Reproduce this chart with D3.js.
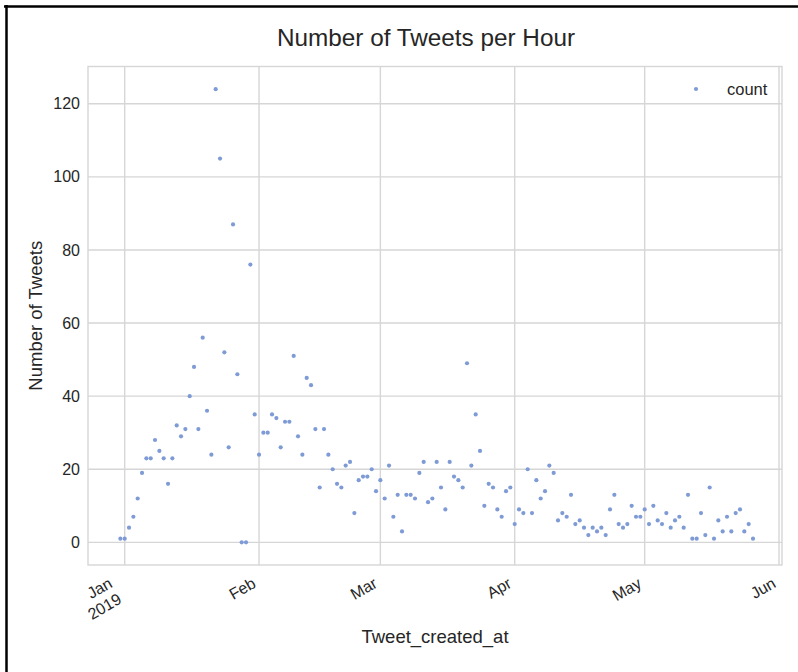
<!DOCTYPE html>
<html>
<head>
<meta charset="utf-8">
<script src="https://cdn.jsdelivr.net/npm/d3@7"></script>
<style>
  html, body { margin: 0; padding: 0; background: #ffffff; }
  svg { display: block; }
  text { font-family: "Liberation Sans", Arial, sans-serif; fill: #262626; }
</style>
</head>
<body>
<script>
// Daily tweet counts, starting on the first date below, one value per consecutive day
const firstDay = "2018-12-31";
const counts = [
  1, 1, 4, 7, 12, 19, 23, 23, 28, 25, 23, 16, 23, 32, 29, 31, 40, 48, 31, 56,
  36, 24, 124, 105, 52, 26, 87, 46, 0, 0, 76, 35, 24, 30, 30, 35, 34, 26, 33, 33,
  51, 29, 24, 45, 43, 31, 15, 31, 24, 20, 16, 15, 21, 22, 8, 17, 18, 18, 20, 14,
  17, 12, 21, 7, 13, 3, 13, 13, 12, 19, 22, 11, 12, 22, 15, 9, 22, 18, 17, 15,
  49, 21, 35, 25, 10, 16, 15, 9, 7, 14, 15, 5, 9, 8, 20, 8, 17, 12, 14, 21,
  19, 6, 8, 7, 13, 5, 6, 4, 2, 4, 3, 4, 2, 9, 13, 5, 4, 5, 10, 7,
  7, 9, 5, 10, 6, 5, 8, 4, 6, 7, 4, 13, 1, 1, 8, 2, 15, 1, 6, 3,
  7, 3, 8, 9, 3, 5, 1
];
const seriesName = "count";

// Axis ticks
const monthTicks = ["2019-01-01", "2019-02-01", "2019-03-01", "2019-04-01", "2019-05-01", "2019-06-01"];
const monthLabels = [["Jan", "2019"], ["Feb"], ["Mar"], ["Apr"], ["May"], ["Jun"]];
const yTicks = [0, 20, 40, 60, 80, 100, 120];

// Text
const titleText = "Number of Tweets per Hour";
const xLabel = "Tweet_created_at";
const yLabel = "Number of Tweets";

const W = 798, H = 672;
const plot = { left: 88, right: 782, top: 66.5, bottom: 565 };
const gridColor = "#d6d6d6";
const pointColor = "#7f9bd6";

const parse = d3.utcParse("%Y-%m-%d");
const start = parse(firstDay);
const data = counts.map((c, i) => ({ date: d3.utcDay.offset(start, i), value: c }));

// Time axis limits run from late December to just past June 1st
const xLimits = [new Date(Date.UTC(2018, 11, 23, 12, 43)), new Date(Date.UTC(2019, 5, 1, 16, 36))];
const x = d3.scaleUtc().domain(xLimits).range([plot.left, plot.right]);

// Value axis padded by 5% of the data range on both sides
const [vMin, vMax] = d3.extent(counts);
const pad = (vMax - vMin) * 0.05;
const y = d3.scaleLinear().domain([vMin - pad, vMax + pad]).range([plot.bottom, plot.top]);

const svg = d3.select("body").append("svg").attr("width", W).attr("height", H);

// Outer frame lines (top and left)
svg.append("line").attr("x1", 4).attr("x2", W).attr("y1", 6.5).attr("y2", 6.5)
  .attr("stroke", "#000").attr("stroke-width", 2.5);
svg.append("line").attr("x1", 6.5).attr("x2", 6.5).attr("y1", 5).attr("y2", H)
  .attr("stroke", "#000").attr("stroke-width", 2.5);

// Grid
const grid = svg.append("g");
grid.selectAll("line.gy").data(yTicks).join("line")
  .attr("x1", plot.left).attr("x2", plot.right)
  .attr("y1", d => y(d)).attr("y2", d => y(d))
  .attr("stroke", gridColor).attr("stroke-width", 1.4);
grid.selectAll("line.gx").data(monthTicks).join("line")
  .attr("x1", d => x(parse(d))).attr("x2", d => x(parse(d)))
  .attr("y1", plot.top).attr("y2", plot.bottom)
  .attr("stroke", gridColor).attr("stroke-width", 1.4);

// Spines
svg.append("rect")
  .attr("x", plot.left).attr("y", plot.top)
  .attr("width", plot.right - plot.left).attr("height", plot.bottom - plot.top)
  .attr("fill", "none").attr("stroke", gridColor).attr("stroke-width", 1.4);

// Y tick labels
const tickFont = 16;
svg.append("g").selectAll("text").data(yTicks).join("text")
  .attr("x", plot.left - 8).attr("y", d => y(d))
  .attr("dy", "0.35em")
  .attr("text-anchor", "end")
  .style("font-size", tickFont + "px")
  .text(d => d);

// X tick labels, rotated 30 degrees and right-aligned under each tick
const lineH = tickFont * 1.15;
const xt = svg.append("g").selectAll("g").data(monthTicks).join("g")
  .attr("transform", (d, i) => {
    const h = lineH * monthLabels[i].length;
    return `translate(${x(parse(d)) - 0.5 * h},${plot.bottom + 9}) rotate(-30)`;
  });
xt.each(function (d, i) {
  const t = d3.select(this).append("text")
    .attr("text-anchor", "end")
    .style("font-size", tickFont + "px");
  monthLabels[i].forEach((s, k) => {
    t.append("tspan").attr("x", 0).attr("y", tickFont * 0.9 + k * lineH).text(s);
  });
});

// Points
svg.append("g").selectAll("circle").data(data).join("circle")
  .attr("cx", d => x(d.date))
  .attr("cy", d => y(d.value))
  .attr("r", 2.1)
  .attr("fill", pointColor);

// Legend
const lg = svg.append("g");
lg.append("circle").attr("cx", 696).attr("cy", 89).attr("r", 2.1).attr("fill", pointColor);
lg.append("text").attr("x", 727).attr("y", 95).style("font-size", "16.5px").text(seriesName);

// Title and axis labels
svg.append("text")
  .attr("x", 426).attr("y", 46)
  .attr("text-anchor", "middle").style("font-size", "24.3px")
  .text(titleText);
svg.append("text")
  .attr("x", (plot.left + plot.right) / 2).attr("y", 643)
  .attr("text-anchor", "middle").style("font-size", "18.5px")
  .text(xLabel);
svg.append("text")
  .attr("transform", `translate(42,${(plot.top + plot.bottom) / 2}) rotate(-90)`)
  .attr("text-anchor", "middle").style("font-size", "18.5px")
  .text(yLabel);
</script>
</body>
</html>
